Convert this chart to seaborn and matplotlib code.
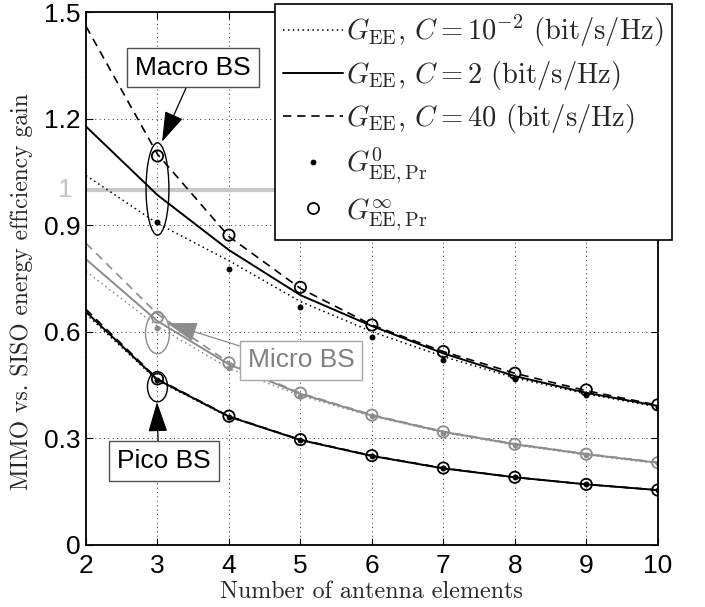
import numpy as np
import pandas as pd
import matplotlib
matplotlib.use("Agg")
import matplotlib.pyplot as plt
import seaborn as sns
from matplotlib.patches import Ellipse
from matplotlib.lines import Line2D
from matplotlib.font_manager import FontProperties
import matplotlib.transforms as mtrans

# ---------------- data ----------------
antennas = [2, 3, 4, 5, 6, 7, 8, 9, 10]
marker_antennas = [3, 4, 5, 6, 7, 8, 9, 10]

macro_c001 = [1.04, 0.905, 0.80, 0.685, 0.600, 0.530, 0.470, 0.425, 0.388]
macro_c2 = [1.178, 0.985, 0.830, 0.703, 0.616, 0.539, 0.475, 0.428, 0.391]
macro_c40 = [1.46, 1.10, 0.868, 0.722, 0.619, 0.544, 0.483, 0.434, 0.393]
macro_g0 = [0.910, 0.777, 0.670, 0.586, 0.520, 0.466, 0.422, 0.387]
macro_ginf = [1.095, 0.872, 0.725, 0.619, 0.544, 0.483, 0.436, 0.394]

micro_c001 = [0.77, 0.615, 0.497, 0.420, 0.362, 0.316, 0.281, 0.253, 0.229]
micro_c2 = [0.804, 0.630, 0.508, 0.425, 0.364, 0.318, 0.283, 0.255, 0.231]
micro_c40 = [0.849, 0.650, 0.513, 0.427, 0.366, 0.319, 0.284, 0.256, 0.232]
micro_g0 = [0.611, 0.497, 0.420, 0.362, 0.316, 0.281, 0.253, 0.229]
micro_ginf = [0.641, 0.512, 0.427, 0.365, 0.318, 0.283, 0.255, 0.231]

pico_c001 = [0.650, 0.462, 0.360, 0.295, 0.250, 0.215, 0.190, 0.170, 0.154]
pico_c2 = [0.656, 0.465, 0.361, 0.295, 0.250, 0.215, 0.190, 0.170, 0.154]
pico_c40 = [0.663, 0.467, 0.362, 0.296, 0.251, 0.216, 0.190, 0.170, 0.154]
pico_g0 = [0.464, 0.360, 0.295, 0.250, 0.215, 0.190, 0.170, 0.154]
pico_ginf = [0.467, 0.362, 0.296, 0.251, 0.216, 0.190, 0.170, 0.154]

reference_gain = 1.0
x_ticks = [2, 3, 4, 5, 6, 7, 8, 9, 10]
y_ticks = [0, 0.3, 0.6, 0.9, 1.2, 1.5]
y_tick_labels = ["0", "0.3", "0.6", "0.9", "1.2", "1.5"]

legend_labels = [
    r"$G_{\mathrm{EE}}$, $C=10^{-2}$ (bit/s/Hz)",
    r"$G_{\mathrm{EE}}$, $C=2$ (bit/s/Hz)",
    r"$G_{\mathrm{EE}}$, $C=40$ (bit/s/Hz)",
    r"$G^{0}_{\mathrm{EE,Pr}}$",
    r"$G^{\infty}_{\mathrm{EE,Pr}}$",
]

# ---------------- style ----------------
sns.set_style("ticks")
plt.rcParams["mathtext.fontset"] = "cm"
plt.rcParams["font.family"] = ["Liberation Sans", "DejaVu Sans"]

BLACK = "#000000"
GRAY = "#8c8c8c"

fig = plt.figure(figsize=(7.05, 6.07), dpi=100)
ax = fig.add_axes([0.122, 0.1026, 0.811, 0.8773])

dotted = (0, (1, 2.2))
dashed = (0, (5, 3.5))

groups = [
    (macro_c001, macro_c2, macro_c40, macro_g0, macro_ginf, BLACK),
    (micro_c001, micro_c2, micro_c40, micro_g0, micro_ginf, GRAY),
    (pico_c001, pico_c2, pico_c40, pico_g0, pico_ginf, BLACK),
]

ax.axhline(reference_gain, color="#c8c8c8", lw=3, zorder=1.5)

for c001, c2, c40, g0, ginf, col in groups:
    sns.lineplot(x=antennas, y=c001, ax=ax, color=col, linestyle=dotted, lw=1.1, legend=False, zorder=3)
    sns.lineplot(x=antennas, y=c2, ax=ax, color=col, linestyle="-", lw=1.4, legend=False, zorder=3)
    sns.lineplot(x=antennas, y=c40, ax=ax, color=col, linestyle=dashed, lw=1.2, legend=False, zorder=3)
    sns.scatterplot(x=marker_antennas, y=g0, ax=ax, marker="o", s=18, color=col,
                    edgecolor=col, linewidth=0, legend=False, zorder=4)
    sns.scatterplot(x=marker_antennas, y=ginf, ax=ax, marker="o", s=66, facecolor="none",
                    edgecolor=col, linewidth=1.3, legend=False, zorder=4)

ax.set_xlim(2, 10)
ax.set_ylim(0, 1.5)
ax.set_xticks(x_ticks)
ax.set_yticks(y_ticks)
ax.set_yticklabels(y_tick_labels)
ax.tick_params(direction="in", length=5, width=0.8, top=True, right=True,
               labelsize=19, pad=4, colors=BLACK)
ax.tick_params(axis="x", pad=7)
ax.grid(True, linestyle=(0, (1, 3.5)), color="#333333", lw=0.7)
for sp in ax.spines.values():
    sp.set_linewidth(1.3)
    sp.set_color(BLACK)
    sp.set_zorder(6)

# gray "1" label
trans = mtrans.blended_transform_factory(ax.transAxes, ax.transData)
ax.text(-0.024, reference_gain, "1", transform=trans, ha="right", va="center",
        fontsize=19, color="#c4c4c4")

# axis labels (Computer Modern)
ax.set_xlabel("Number of antenna elements", fontfamily="cmr10", fontsize=17.3, labelpad=2)
ax.set_ylabel("MIMO vs. SISO energy efficiency gain", fontfamily="cmr10", fontsize=17, labelpad=4)
ax.yaxis.set_label_coords(-0.093, 0.475)

# ellipses
ax.add_patch(Ellipse((3.0, 1.002), 0.32, 0.26, fill=False, ec=BLACK, lw=1.0, zorder=5))
ax.add_patch(Ellipse((3.0, 0.596), 0.335, 0.116, fill=False, ec=GRAY, lw=1.0, zorder=5))
ax.add_patch(Ellipse((3.0, 0.445), 0.28, 0.085, fill=False, ec=BLACK, lw=1.0, zorder=5))

arrow_k = dict(arrowstyle="-|>,head_length=1.0,head_width=0.32", color=BLACK, lw=0.9,
               shrinkA=0, shrinkB=0)
box_k = dict(boxstyle="square,pad=0.3", fc="white", lw=1.0)
ax.annotate("Macro BS", xy=(3.063, 1.135), xytext=(3.50, 1.344), ha="center", va="center",
            fontsize=19, color=BLACK, bbox=dict(box_k, ec="#505050"),
            arrowprops=dict(arrow_k, relpos=(0.47, 0)), zorder=7)
ax.annotate("Micro BS", xy=(3.133, 0.624), xytext=(5.01, 0.519), ha="center", va="center",
            fontsize=19, color="#808080", bbox=dict(box_k, ec="#a8a8a8"),
            arrowprops=dict(arrow_k, color=GRAY, relpos=(0.0, 1.0)), zorder=7)
ax.annotate("Pico BS", xy=(2.993, 0.402), xytext=(3.09, 0.235), ha="center", va="center",
            fontsize=19, color=BLACK, bbox=dict(box_k, ec="#505050"),
            arrowprops=dict(arrow_k, relpos=(0.44, 1.0)), zorder=7)

# legend
handles = [
    Line2D([], [], color=BLACK, linestyle=dotted, lw=1.1),
    Line2D([], [], color=BLACK, linestyle="-", lw=1.4),
    Line2D([], [], color=BLACK, linestyle=dashed, lw=1.2),
    Line2D([], [], color=BLACK, linestyle="none", marker="o", markersize=4.2, markeredgewidth=0),
    Line2D([], [], color=BLACK, linestyle="none", marker="o", markersize=8,
           markerfacecolor="none", markeredgewidth=1.3),
]
leg = fig.legend(handles, legend_labels, loc="upper right", bbox_to_anchor=(0.953, 0.993),
                 bbox_transform=fig.transFigure, prop=FontProperties(family="cmr10", size=20.5),
                 frameon=True, fancybox=False, framealpha=1, edgecolor=BLACK,
                 handlelength=2.1, handletextpad=0.1, labelspacing=0.36, borderpad=0.3,
                 borderaxespad=0)
leg.get_frame().set_linewidth(1.2)
leg.set_zorder(10)

fig.savefig("out.png", dpi=100)
